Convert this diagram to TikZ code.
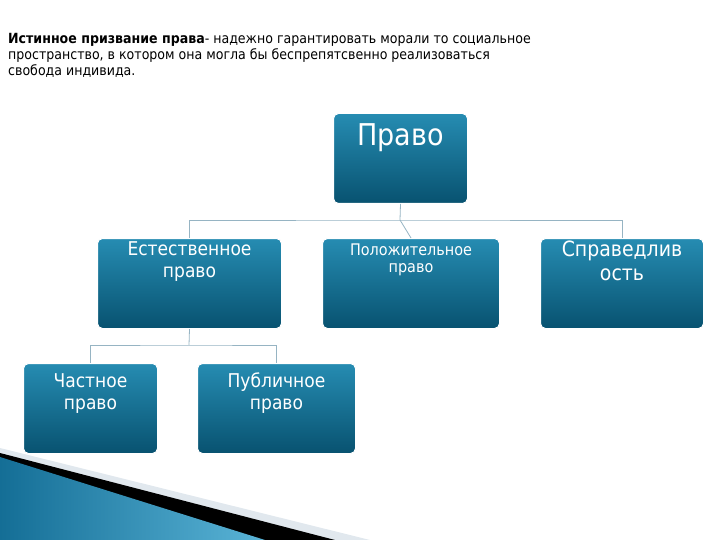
\documentclass[tikz,border=0pt]{standalone}
\usepackage{fontspec}
\setmainfont{DejaVu Sans Condensed}
\begin{document}
\begin{tikzpicture}[x=1pt,y=-1pt,
  box/.style={draw=white,line width=1pt,rounded corners=5pt,top color={rgb,255:red,38;green,140;blue,178},bottom color={rgb,255:red,8;green,82;blue,112},text=white,align=center,inner sep=0pt,anchor=north west},
  conn/.style={draw={rgb,255:red,150;green,180;blue,195},line width=0.8pt}]
\useasboundingbox (0,0) rectangle (720,540);
\fill[fill={rgb,255:red,225;green,232;blue,238}] (0,448) -- (370,540) -- (0,540) -- cycle;
\fill[black] (0,453) -- (335,540) -- (0,540) -- cycle;
\fill[left color={rgb,255:red,20;green,110;blue,150},right color={rgb,255:red,90;green,180;blue,215}] (0,457) -- (265,540) -- (0,540) -- cycle;
\node[anchor=north west,align=left,inner sep=0pt,font=\fontsize{14}{16}\selectfont] (t) at (8,33) {\textbf{Истинное призвание права}- надежно гарантировать морали то социальное\\пространство, в котором она могла бы беспрепятсвенно реализоваться\\свобода индивида.};
\node[box,minimum width=134,minimum height=90,font=\fontsize{30}{32}\selectfont,text depth=48pt] (p) at (333,113) {Право};
\node[box,minimum width=184,minimum height=90,font=\fontsize{19}{22}\selectfont] (e) at (97,238) {Естественное\\право\\[26pt]};
\node[box,minimum width=177,minimum height=90,font=\fontsize{16}{17}\selectfont] (pol) at (322,238) {Положительное\\право\\[34pt]};
\node[box,minimum width=163,minimum height=90,font=\fontsize{21}{24}\selectfont] (s) at (540,238) {Справедлив\\ость\\[22pt]};
\node[box,minimum width=134,minimum height=90,font=\fontsize{19}{22}\selectfont] (ch) at (23,363) {Частное\\право\\[12pt]};
\node[box,minimum width=158,minimum height=90,font=\fontsize{19}{22}\selectfont] (pub) at (197,363) {Публичное\\право\\[12pt]};
\coordinate (j1) at (400,220);
\coordinate (j2) at (189,345);
\draw[conn] (p.south) -- (j1);
\draw[conn] (e.north) |- (j1) -| (s.north);
\draw[conn] (j1) -- (pol.north);
\draw[conn] (e.south) -- (j2);
\draw[conn] (ch.north) |- (j2) -| (pub.north);
\end{tikzpicture}
\end{document}
